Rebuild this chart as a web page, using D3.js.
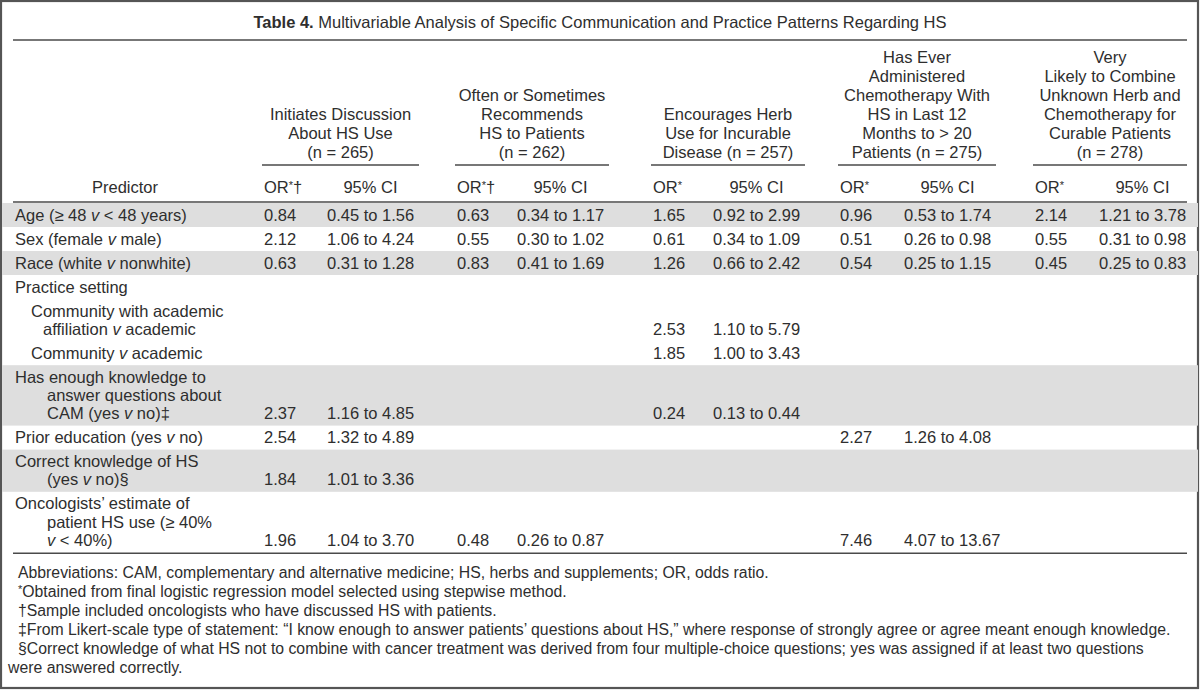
<!DOCTYPE html>
<html><head><meta charset="utf-8">
<script src="https://cdn.jsdelivr.net/npm/d3@7"></script>
<style>
body{margin:0;background:#fff}
svg{display:block}
text{font-family:"Liberation Sans",Arial,sans-serif;font-size:16.5px;fill:#2e2e2e}
text.fn{font-size:15.8px}
</style>
</head><body>
<svg id="chart" width="1200" height="690"></svg>
<script>
// ---------- DATA ----------
const titleBold = "Table 4.";
const titleRest = " Multivariable Analysis of Specific Communication and Practice Patterns Regarding HS";

const outcomeGroups = [
  ["Initiates Discussion", "About HS Use", "(n = 265)"],
  ["Often or Sometimes", "Recommends", "HS to Patients", "(n = 262)"],
  ["Encourages Herb", "Use for Incurable", "Disease (n = 257)"],
  ["Has Ever", "Administered", "Chemotherapy With", "HS in Last 12", "Months to > 20", "Patients (n = 275)"],
  ["Very", "Likely to Combine", "Unknown Herb and", "Chemotherapy for", "Curable Patients", "(n = 278)"]
];
const orMarks = ["*†", "*†", "*", "*", "*"];
const predictorHeader = "Predictor";
const ciHeader = "95% CI";

const predictors = [
  ["Age (≥ 48 {v} < 48 years)"],
  ["Sex (female {v} male)"],
  ["Race (white {v} nonwhite)"],
  ["Practice setting"],
  ["Community with academic", "affiliation {v} academic"],
  ["Community {v} academic"],
  ["Has enough knowledge to", "answer questions about", "CAM (yes {v} no)‡"],
  ["Prior education (yes {v} no)"],
  ["Correct knowledge of HS", "(yes {v} no)§"],
  ["Oncologists’ estimate of", "patient HS use (≥ 40%", "{v} < 40%)"]
];
const predictorLevel = [0, 0, 0, 0, 1, 1, 0, 0, 0, 0];

const or1 = [0.84, 2.12, 0.63, null, null, null, 2.37, 2.54, 1.84, 1.96];
const ci1 = [[0.45,1.56],[1.06,4.24],[0.31,1.28],null,null,null,[1.16,4.85],[1.32,4.89],[1.01,3.36],[1.04,3.70]];
const or2 = [0.63, 0.55, 0.83, null, null, null, null, null, null, 0.48];
const ci2 = [[0.34,1.17],[0.30,1.02],[0.41,1.69],null,null,null,null,null,null,[0.26,0.87]];
const or3 = [1.65, 0.61, 1.26, null, 2.53, 1.85, 0.24, null, null, null];
const ci3 = [[0.92,2.99],[0.34,1.09],[0.66,2.42],null,[1.10,5.79],[1.00,3.43],[0.13,0.44],null,null,null];
const or4 = [0.96, 0.51, 0.54, null, null, null, null, 2.27, null, 7.46];
const ci4 = [[0.53,1.74],[0.26,0.98],[0.25,1.15],null,null,null,null,[1.26,4.08],null,[4.07,13.67]];
const or5 = [2.14, 0.55, 0.45, null, null, null, null, null, null, null];
const ci5 = [[1.21,3.78],[0.31,0.98],[0.25,0.83],null,null,null,null,null,null,null];

const footnotes = [
  ["Abbreviations: CAM, complementary and alternative medicine; HS, herbs and supplements; OR, odds ratio."],
  ["{*}Obtained from final logistic regression model selected using stepwise method."],
  ["†Sample included oncologists who have discussed HS with patients."],
  ["‡From Likert-scale type of statement: “I know enough to answer patients’ questions about HS,” where response of strongly agree or agree meant enough knowledge."],
  ["§Correct knowledge of what HS not to combine with cancer treatment was derived from four multiple-choice questions; yes was assigned if at least two questions",
   "were answered correctly."]
];

// ---------- LAYOUT ----------
const W = 1200, H = 690;
const svg = d3.select("#chart");
const fmt = d3.format(".2f");
const orCols = [or1, or2, or3, or4, or5];
const ciCols = [ci1, ci2, ci3, ci4, ci5];

const ruleL = 13, ruleR = 1187;
const orX = d3.scaleOrdinal().domain(d3.range(5)).range([264, 457, 653, 840, 1035]);
const ciX = d3.scaleOrdinal().domain(d3.range(5)).range([327, 517, 713, 904, 1099]);
const CIW = 87;
const ruleC = "#4a4a4a", shade = "#dedede";

function richText(sel, str) {
  // {v} -> italic v, {*} -> small raised asterisk
  const parts = str.split(/(\{v\}|\{\*\})/);
  let pendingDy = 0;
  parts.forEach(p => {
    if (p === "{v}") {
      const s = sel.append("tspan").attr("font-style", "italic").text("v");
      if (pendingDy) { s.attr("dy", pendingDy); pendingDy = 0; }
    } else if (p === "{*}") {
      sel.append("tspan").attr("font-size", 11).attr("dy", -4).text("*");
      pendingDy = 4;
    } else if (p.length) {
      const s = sel.append("tspan").text(p);
      if (pendingDy) { s.attr("dy", pendingDy); pendingDy = 0; }
    }
  });
}

// frame
svg.append("rect").attr("x", 1).attr("y", 1).attr("width", W - 3).attr("height", H - 3)
  .attr("fill", "none").attr("stroke", "#555").attr("stroke-width", 2.2);

// title
const t = svg.append("text").attr("x", W / 2).attr("y", 28).attr("text-anchor", "middle");
t.append("tspan").attr("font-weight", "bold").text(titleBold);
t.append("tspan").text(titleRest);
svg.append("line").attr("x1", ruleL).attr("x2", ruleR).attr("y1", 40).attr("y2", 40)
  .attr("stroke", ruleC).attr("stroke-width", 1.6);

// group headers
const grpLineH = 19, grpLast = 152;
outcomeGroups.forEach((lines, i) => {
  const x1 = orX(i) - 2, x2 = Math.min(ciX(i) + CIW + 5, ruleR);
  const cx = (x1 + x2) / 2;
  const g = svg.append("g");
  lines.forEach((ln, j) => {
    g.append("text").attr("x", cx).attr("text-anchor", "middle")
      .attr("y", grpLast - (lines.length - 1 - j) * grpLineH + 5.5).text(ln);
  });
  svg.append("line").attr("x1", x1).attr("x2", x2).attr("y1", 165).attr("y2", 165)
    .attr("stroke", ruleC).attr("stroke-width", 1.3);
  // column headers
  const oh = svg.append("text").attr("x", orX(i)).attr("y", 187 + 5.5);
  oh.append("tspan").text("OR");
  oh.append("tspan").attr("font-size", 11).attr("dy", -4).text("*");
  if (orMarks[i].length > 1) oh.append("tspan").attr("dy", 4).text(orMarks[i].slice(1));
  svg.append("text").attr("x", ciX(i) + CIW / 2).attr("y", 187 + 5.5)
    .attr("text-anchor", "middle").text(ciHeader);
});
svg.append("text").attr("x", 125).attr("y", 187 + 5.5).attr("text-anchor", "middle").text(predictorHeader);

// body rows
const headRule = 202, rowBase = 24, lineH = 18.2;
const rowH = predictors.map(l => rowBase + (l.length - 1) * lineH);
const tops = [headRule + 1, ...d3.cumsum(rowH).map(v => headRule + 1 + v)];
let grp = -1;
const groupIdx = predictorLevel.map(l => (l === 0 ? ++grp : grp));

predictors.forEach((lines, r) => {
  if (groupIdx[r] % 2 === 0) {
    svg.append("rect").attr("x", 2).attr("y", tops[r]).attr("width", W - 4).attr("height", rowH[r]).attr("fill", shade);
  }
});
svg.append("line").attr("x1", ruleL).attr("x2", ruleR).attr("y1", headRule).attr("y2", headRule)
  .attr("stroke", ruleC).attr("stroke-width", 1.6);

predictors.forEach((lines, r) => {
  const top = tops[r];
  lines.forEach((ln, j) => {
    const lvl = predictorLevel[r];
    const x = j === 0 ? (lvl === 0 ? 15 : 31) : (lvl === 0 ? 47 : 43);
    const tx = svg.append("text").attr("x", x).attr("y", top + 12 + j * lineH + 5.5);
    richText(tx, ln);
  });
  const lastY = top + 12 + (lines.length - 1) * lineH + 5.5;
  orCols.forEach((col, c) => {
    if (col[r] != null) svg.append("text").attr("x", orX(c)).attr("y", lastY).text(fmt(col[r]));
    const ci = ciCols[c][r];
    if (ci != null) svg.append("text").attr("x", ciX(c)).attr("y", lastY).text(fmt(ci[0]) + " to " + fmt(ci[1]));
  });
});
const bottom = tops[tops.length - 1];
svg.append("line").attr("x1", ruleL).attr("x2", ruleR).attr("y1", bottom + 1).attr("y2", bottom + 1)
  .attr("stroke", ruleC).attr("stroke-width", 1.6);

// footnotes
let fy = 572;
footnotes.forEach(lines => {
  lines.forEach((ln, j) => {
    const tx = svg.append("text").attr("class", "fn").attr("x", j === 0 ? 18 : 8).attr("y", fy + 5.5);
    richText(tx, ln);
    fy += 19;
  });
});
</script>
</body></html>
